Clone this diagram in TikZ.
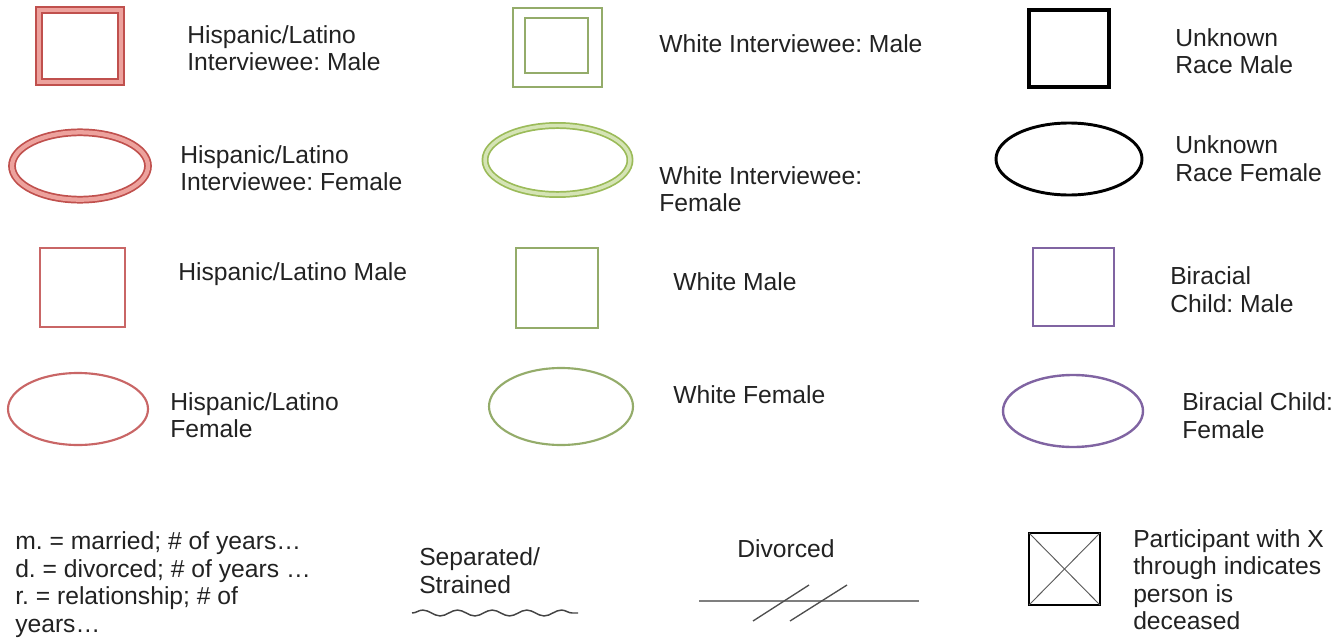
\documentclass[tikz,border=0pt]{standalone}
\usepackage{fontspec}
\setmainfont{Liberation Sans}
\usetikzlibrary{shapes.geometric,decorations.pathmorphing}
\frenchspacing

\definecolor{hisp}{HTML}{C0504D}
\definecolor{hispband}{HTML}{EDA29D}
\definecolor{hispline}{HTML}{C96666}
\definecolor{wht}{HTML}{9BBB59}
\definecolor{whtdark}{HTML}{94AC6A}
\definecolor{whtband}{HTML}{D5E4B5}
\definecolor{bir}{HTML}{8064A2}
\definecolor{txt}{HTML}{222222}
\definecolor{relgray}{HTML}{7F7F7F}

% Multi-line labels are placed by the baseline of their last line.
\tikzset{
  legtext/.style={anchor=base west, align=left, inner sep=0pt, text=txt,
    font=\fontsize{18.5pt}{20.6pt}\selectfont},
  sym/.style={inner sep=0pt, outer sep=0pt, fill=white},
  boxsym/.style={sym, rectangle},
  ovalsym/.style={sym, ellipse},
  hispdouble/.style={draw=hisp, double=hispband, line width=1.3pt, double distance=3.2pt},
  hispsingle/.style={draw=hispline, line width=1.6pt},
  whtsingle/.style={draw=whtdark, line width=1.6pt},
  birsingle/.style={draw=bir, line width=1.8pt},
  unk/.style={draw=black, line width=2.4pt},
}

\begin{document}
\begin{tikzpicture}[x=0.75pt,y=-0.75pt]
\useasboundingbox (0,0) rectangle (1337,642);

% ---- column 1: Hispanic/Latino
\node[boxsym, hispdouble, minimum width=61.9pt, minimum height=53.6pt] (hispIM) at (80,46) {};
\node[legtext] (hispIMt) at (187,70.5) {Hispanic/Latino\\Interviewee: Male};

\node[ovalsym, hispdouble, minimum width=102pt, minimum height=50.5pt] (hispIF) at (80,166) {};
\node[legtext] (hispIFt) at (180,190.5) {Hispanic/Latino\\Interviewee: Female};

\node[boxsym, hispsingle, minimum width=63.75pt, minimum height=59.25pt] (hispM) at (82.5,287.5) {};
\node[legtext] (hispMt) at (178,280) {Hispanic/Latino Male};

\node[ovalsym, hispsingle, minimum width=105pt, minimum height=54pt] (hispF) at (78,409) {};
\node[legtext] (hispFt) at (170,437.5) {Hispanic/Latino\\Female};

% ---- column 2: White
\node[boxsym, whtsingle, minimum width=66.75pt, minimum height=59.25pt, fill=white] (whtIMo) at (557.5,47.5) {};
\node[boxsym, draw=whtdark, line width=2pt, minimum width=47.25pt, minimum height=41.25pt] (whtIMi) at (556.5,45.5) {};
\node[legtext] (whtIMt) at (659,53) {White Interviewee: Male};

\node[ovalsym, draw=wht, double=whtband, line width=1.3pt, double distance=2.6pt,
      minimum width=108.75pt, minimum height=51.75pt] (whtIF) at (557.5,160) {};
\node[legtext] (whtIFt) at (659,211.5) {White Interviewee:\\Female};

\node[boxsym, whtsingle, minimum width=61.5pt, minimum height=60pt] (whtM) at (557,288) {};
\node[legtext] (whtMt) at (673,290) {White Male};

\node[ovalsym, whtsingle, minimum width=108pt, minimum height=57.75pt] (whtF) at (561,406.5) {};
\node[legtext] (whtFt) at (673,403) {White Female};

% ---- column 3: unknown race and biracial children
\node[boxsym, unk, minimum width=60pt, minimum height=57.75pt] (unkM) at (1069,48.5) {};
\node[legtext] (unkMt) at (1175,74) {Unknown\\Race Male};

\node[ovalsym, draw=black, line width=2.2pt, minimum width=109.5pt, minimum height=54pt] (unkF) at (1069,159) {};
\node[legtext] (unkFt) at (1175,181) {Unknown\\Race Female};

\node[boxsym, birsingle, minimum width=60.75pt, minimum height=58.5pt] (birM) at (1073.5,287) {};
\node[legtext] (birMt) at (1170,312) {Biracial\\Child: Male};

\node[ovalsym, birsingle, minimum width=105pt, minimum height=54pt] (birF) at (1073,411) {};
\node[legtext] (birFt) at (1182,438) {Biracial Child:\\Female};

% ---- bottom row: abbreviations and relationship lines
\node[legtext] (abbr) at (15,632)
  {m. = married; \# of years…\\d. = divorced; \# of years …\\r. = relationship; \# of\\years…};

\node[legtext] (sepT) at (419,593) {Separated/\\Strained};
\coordinate (sepA) at (412,613);
\coordinate (sepB) at (578,613);
\draw[txt!85, line width=1.1pt,
      decorate, decoration={snake, segment length=26pt, amplitude=2.2pt}] (sepA) -- (sepB);

\node[legtext] (divT) at (737,557) {Divorced};
\coordinate (divA) at (699,601);
\coordinate (divB) at (919,601);
\coordinate (s1a) at (753,621);
\coordinate (s1b) at (809,585);
\coordinate (s2a) at (790,621);
\coordinate (s2b) at (847,585);
\draw[relgray, line width=1.8pt] (divA) -- (divB);
\draw[txt!80, line width=1pt] (s1a) -- (s1b);
\draw[txt!80, line width=1pt] (s2a) -- (s2b);

\node[boxsym, draw=black, line width=1.8pt, minimum width=53.25pt, minimum height=54pt] (dec) at (1064.5,569) {};
\draw[txt!75, line width=0.7pt] (dec.north west) -- (dec.south east);
\draw[txt!75, line width=0.7pt] (dec.north east) -- (dec.south west);
\node[legtext] (decT) at (1133,629.5) {Participant with X\\through indicates\\person is\\deceased};
\end{tikzpicture}
\end{document}
